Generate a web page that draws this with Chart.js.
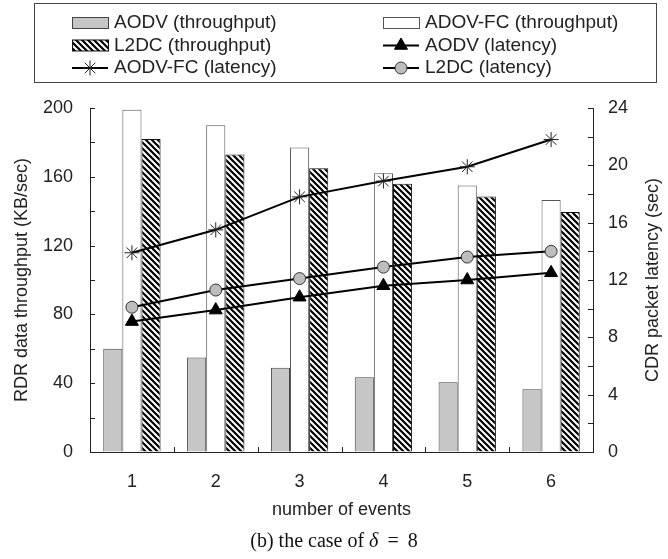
<!DOCTYPE html>
<html>
<head>
<meta charset="utf-8">
<script src="https://cdn.jsdelivr.net/npm/chart.js@4/dist/chart.umd.min.js"></script>
<style>
  html, body { margin: 0; padding: 0; background: #fff; }
  #wrap { position: relative; width: 668px; height: 559px; }
  #caption {
    position: absolute; left: 0; width: 668px; top: 529px;
    text-align: center; font: 20px "Liberation Serif", "DejaVu Serif", serif; color: #111;
  }
</style>
</head>
<body>
<div id="wrap">
  <canvas id="chart" width="668" height="559"></canvas>
  <div id="caption">(b) the case of <i>δ</i>&thinsp; = &thinsp;8</div>
</div>
<script>
// number of events on the x axis
const events = ["1", "2", "3", "4", "5", "6"];

// throughput, KB/sec (left axis)
const aodvThroughput   = [60, 55, 49, 43.5, 40.5, 36.5];
const aodvFcThroughput = [199, 190, 177, 162, 155, 146.5];
const l2dcThroughput   = [182, 173, 165, 156, 148.5, 139.5];

// packet latency, sec (right axis)
const aodvLatency   = [9.1, 9.9, 10.8, 11.6, 12.0, 12.5];
const aodvFcLatency = [13.9, 15.5, 17.8, 18.9, 19.9, 21.8];
const l2dcLatency   = [10.1, 11.3, 12.1, 12.9, 13.6, 14.0];

const rightTitle = "CDR packet latency (sec)";

const FONT = '"Liberation Sans", Arial, sans-serif';
const INK = "#222";

Chart.defaults.font.family = FONT;
Chart.defaults.color = INK;

// back-slash hatch for the L2DC bars
function hatch(){
  const c = document.createElement("canvas");
  c.width = 6; c.height = 6;
  const g = c.getContext("2d");
  g.fillStyle = "#fff";
  g.fillRect(0, 0, 6, 6);
  g.strokeStyle = "#000";
  g.lineWidth = 2.2;
  g.beginPath();
  g.moveTo(-1, -1); g.lineTo(7, 7);
  g.moveTo(-1, 5); g.lineTo(1, 7);
  g.moveTo(5, -1); g.lineTo(7, 1);
  g.stroke();
  return document.getElementById("chart").getContext("2d").createPattern(c, "repeat");
}

const barCommon = {type: "bar", yAxisID: "y", order: 2, borderWidth: 1,
  categoryPercentage: 0.684, barPercentage: 1.0};
const lineCommon = {type: "line", yAxisID: "y1", order: 1, borderColor: "#000",
  borderWidth: 2, tension: 0, fill: false};

// legend drawn as a framed two-column box above the plot
const boxLegend = {
  id: "boxLegend",
  afterDraw(chart){
    const ctx = chart.ctx;
    const sets = chart.data.datasets;
    const rows = [23, 45.5, 68];
    const cols = [72, 383];
    ctx.save();
    ctx.strokeStyle = "#444";
    ctx.lineWidth = 1;
    ctx.strokeRect(34.5, 3.5, 622, 79);
    ctx.font = "19px " + FONT;
    ctx.textBaseline = "middle";
    sets.forEach((ds, i) => {
      const x = cols[i % 2], y = rows[Math.floor(i / 2)];
      if (ds.type === "bar"){
        ctx.fillStyle = ds.backgroundColor;
        ctx.fillRect(x, y - 5.5, 36, 11);
        ctx.strokeStyle = ds.borderColor;
        ctx.lineWidth = 1;
        ctx.strokeRect(x + 0.5, y - 5.5, 36, 11);
      } else {
        ctx.strokeStyle = "#000";
        ctx.lineWidth = 2;
        ctx.beginPath();
        ctx.moveTo(x, y); ctx.lineTo(x + 36, y);
        ctx.stroke();
        ctx.fillStyle = ds.pointBackgroundColor;
        ctx.strokeStyle = ds.pointBorderColor;
        ctx.lineWidth = ds.pointBorderWidth;
        Chart.helpers.drawPoint(ctx, {pointStyle: ds.pointStyle, radius: ds.pointRadius,
          rotation: 0, borderWidth: ds.pointBorderWidth}, x + 18, y);
      }
      ctx.fillStyle = INK;
      ctx.textAlign = "left";
      ctx.fillText(ds.label, x + 42, y);
    });
    ctx.restore();
  }
};

// short tick marks pointing into the plot, plus the right axis title read bottom-up
const axisDecor = {
  id: "axisDecor",
  afterDraw(chart){
    const {ctx, chartArea: a, scales} = chart;
    const len = 5;
    ctx.save();
    ctx.strokeStyle = INK;
    ctx.lineWidth = 1;
    ctx.beginPath();
    scales.y.ticks.forEach((t, i) => {
      const py = Math.round(scales.y.getPixelForTick(i)) + 0.5;
      ctx.moveTo(a.left, py); ctx.lineTo(a.left + len, py);
    });
    scales.y1.ticks.forEach((t, i) => {
      const py = Math.round(scales.y1.getPixelForTick(i)) + 0.5;
      ctx.moveTo(a.right, py); ctx.lineTo(a.right - len, py);
    });
    const n = scales.x.ticks.length;
    for (let i = 0; i < n - 1; i++){
      const px = Math.round((scales.x.getPixelForTick(i) + scales.x.getPixelForTick(i + 1)) / 2) + 0.5;
      ctx.moveTo(px, a.bottom); ctx.lineTo(px, a.bottom - len);
    }
    ctx.stroke();

    ctx.translate(653, (a.top + a.bottom) / 2);
    ctx.rotate(-Math.PI / 2);
    ctx.font = "18px " + FONT;
    ctx.fillStyle = INK;
    ctx.textAlign = "center";
    ctx.textBaseline = "middle";
    ctx.fillText(rightTitle, 0, 0);
    ctx.restore();
  }
};

const tickFont = {size: 18};
const axisGrid = {drawOnChartArea: false, drawTicks: false};
const axisBorder = {display: true, color: INK, width: 1};

new Chart(document.getElementById("chart"), {
  type: "bar",
  data: {
    labels: events,
    datasets: [
      {...barCommon, label: "AODV (throughput)", data: aodvThroughput,
        backgroundColor: "#c6c6c6", borderColor: "#444"},
      {...barCommon, label: "ADOV-FC (throughput)", data: aodvFcThroughput,
        backgroundColor: "#fff", borderColor: "#555"},
      {...barCommon, label: "L2DC (throughput)", data: l2dcThroughput,
        backgroundColor: hatch(), borderColor: "#111"},
      {...lineCommon, label: "AODV (latency)", data: aodvLatency,
        pointStyle: "triangle", pointRadius: 7.5, pointBackgroundColor: "#000",
        pointBorderColor: "#000", pointBorderWidth: 1},
      {...lineCommon, label: "AODV-FC (latency)", data: aodvFcLatency,
        pointStyle: "star", pointRadius: 7.5, pointBackgroundColor: "#000",
        pointBorderColor: "#222", pointBorderWidth: 1},
      {...lineCommon, label: "L2DC (latency)", data: l2dcLatency,
        pointStyle: "circle", pointRadius: 6, pointBackgroundColor: "#bdbdbd",
        pointBorderColor: "#333", pointBorderWidth: 1}
    ]
  },
  options: {
    responsive: false,
    animation: false,
    layout: {padding: {top: 108, left: 0, right: 0, bottom: 0}},
    plugins: {legend: {display: false}, tooltip: {enabled: false}},
    scales: {
      x: {
        grid: {...axisGrid, offset: true},
        border: axisBorder,
        ticks: {font: tickFont, padding: 19, maxRotation: 0},
        title: {display: true, text: "number of events", font: {size: 18},
          padding: {top: 0, bottom: 38}},
        afterFit(s){ s.height = 107; }
      },
      y: {
        position: "left",
        min: 0, max: 200,
        grid: axisGrid,
        border: axisBorder,
        ticks: {stepSize: 20, font: tickFont, padding: 17,
          callback: v => (v % 40 === 0 ? v : "")},
        title: {display: true, text: "RDR data throughput (KB/sec)", font: {size: 18},
          padding: {top: 11, bottom: 0}},
        afterFit(s){ s.width = 90; }
      },
      y1: {
        position: "right",
        min: 0, max: 24,
        grid: axisGrid,
        border: axisBorder,
        ticks: {stepSize: 2, font: tickFont, padding: 15,
          callback: v => (v % 4 === 0 ? v : "")},
        afterFit(s){ s.width = 75; }
      }
    }
  },
  plugins: [boxLegend, axisDecor]
});
</script>
</body>
</html>
